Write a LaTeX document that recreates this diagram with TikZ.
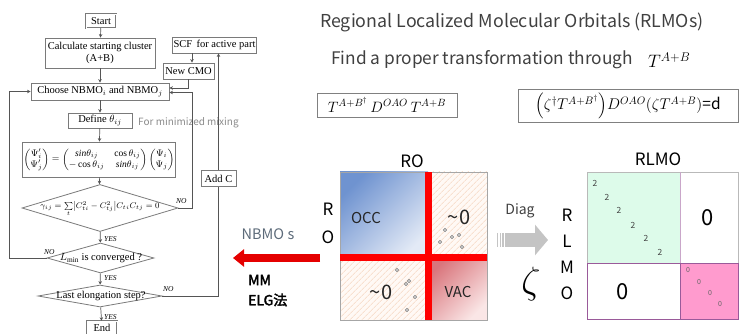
\RequirePackage{fix-cm}
\documentclass[tikz,border=0pt]{standalone}
\usepackage{amsmath}
\usepackage{fontspec}
\setmainfont{Liberation Serif}
\newfontfamily\jp{Noto Sans CJK JP}
\newfontfamily\jpbold{Noto Sans CJK JP}[FakeBold=2.5]
\usetikzlibrary{shapes.geometric,arrows.meta,patterns.meta}

\definecolor{boxgray}{HTML}{7A7A7A}
\definecolor{linegray}{HTML}{555555}
\definecolor{txtgray}{HTML}{404040}
\definecolor{mixgray}{HTML}{8A8A8A}
\definecolor{occdark}{HTML}{6F93D0}
\definecolor{occlight}{HTML}{E3EAF6}
\definecolor{vacdark}{HTML}{D9757C}
\definecolor{vaclight}{HTML}{FAE6E6}
\definecolor{hatchbg}{HTML}{FFF9F5}
\definecolor{hatchln}{HTML}{F8E0D0}
\definecolor{barred}{HTML}{FF0000}
\definecolor{mint}{HTML}{DDFBEA}
\definecolor{pinkblk}{HTML}{FF9BCE}
\definecolor{plum}{HTML}{9A5A9A}
\definecolor{plumlight}{HTML}{C9A6C9}
\definecolor{nbmo}{HTML}{5D6B7A}
\definecolor{diaggray}{HTML}{C4C4C4}

\begin{document}
\begin{tikzpicture}[x=1pt,y=-1pt,
  fbox/.style={draw=boxgray, line width=0.8pt, fill=white, inner sep=1pt, align=center,
               font=\fontsize{10.5}{12}\selectfont},
  endbox/.style={fbox, double=white, double distance=0.8pt, draw=boxgray, line width=0.5pt},
  dia/.style={diamond, draw=boxgray, line width=0.8pt, inner sep=0pt},
  flow/.style={draw=linegray, line width=0.7pt, -{Stealth[length=3.5pt,width=3.5pt]}},
  tag/.style={font=\fontsize{7.5}{8}\selectfont\itshape, inner sep=0pt},
  dots/.style={draw=gray, fill=gray!45, line width=0.4pt},
  jtxt/.style={font=\jp, text=txtgray, inner sep=0pt},
  eqbox/.style={draw=gray, line width=0.8pt, inner sep=1pt}
]
\useasboundingbox (0,0) rectangle (740,334);

% ---------------- flowchart ----------------
\node[endbox, minimum width=30pt, minimum height=14pt] (start) at (101,21) {Start};
\node[fbox, minimum width=110pt, minimum height=30pt] (calc) at (100,53)
  {Calculate starting cluster\\(A+B)};
\node[fbox, minimum width=138pt, minimum height=17pt] (choose) at (100,91.5)
  {Choose NBMO$_i$ and NBMO$_j$};
\node[fbox, minimum width=64pt, minimum height=15pt] (define) at (100,120.5)
  {Define $\theta_{ij}$};
\node[font=\jp\fontsize{10}{12}\selectfont, text=mixgray, anchor=west, inner sep=0pt] (mix)
  at (138,123) {For minimized mixing};
\node[fbox, minimum width=152pt, minimum height=35pt, font=\fontsize{9.5}{11}\selectfont] (rot) at (99,159.5)
  {$\begin{pmatrix}\Psi_i'\\ \Psi_j'\end{pmatrix}=
    \begin{pmatrix}\mathit{sin}\theta_{ij} & \cos\theta_{ij}\\ -\cos\theta_{ij} & \mathit{sin}\theta_{ij}\end{pmatrix}
    \begin{pmatrix}\Psi_i\\ \Psi_j\end{pmatrix}$};

\node[dia, minimum width=156pt, minimum height=47pt] (gam) at (100,208) {};
\node[font=\fontsize{8.3}{10}\selectfont, inner sep=0pt] (gamtxt) at (100,209)
  {$\gamma_{ij}=\sum\limits_{t}\bigl|C_{ti}^{2}-C_{tj}^{2}\bigr|C_{ti}C_{tj}=0$};
\node[dia, minimum width=107pt, minimum height=30pt] (lmin) at (100.5,258) {};
\node[font=\fontsize{10.5}{12}\selectfont, inner sep=0pt] (lmintxt) at (101,258)
  {$L_{\min}$ is converged ?};
\node[dia, minimum width=124pt, minimum height=22pt] (last) at (100,296) {};
\node[font=\fontsize{10.5}{12}\selectfont, inner sep=0pt] (lasttxt) at (101,296)
  {Last elongation step?};
\node[endbox, minimum width=30pt, minimum height=14pt] (end) at (102,328) {End};

\node[fbox, minimum width=83pt, minimum height=16pt] (scf) at (214.5,45) {SCF\, for active part};
\node[fbox, minimum width=51pt, minimum height=16pt] (newcmo) at (188.5,71) {New CMO};
\node[fbox, minimum width=35pt, minimum height=16pt] (addc) at (218.5,178.5) {Add C};

\coordinate (gamturn) at (192,208);
\coordinate (lminturn) at (9,258);

\draw[flow] (start) -- (calc);
\draw[flow] (calc) -- (choose);
\draw[flow] (choose) -- (define);
\draw[flow] (define) -- (rot);
\draw[flow] (rot) -- (gam);
\draw[flow] (gam) -- (lmin);
\draw[flow] (lmin) -- (last);
\draw[flow] (last) -- (end);
\draw[flow] ([xshift=3.5pt]newcmo.north |- scf.south) -- ([xshift=3.5pt]newcmo.north);
\draw[flow] (newcmo.south) |- ([yshift=3.5pt]choose.east);
\draw[flow] (gam.east) -- (gamturn) |- ([yshift=-1pt]choose.east);
\draw[flow] (lmin.west) -- (lminturn) |- (choose.west);
\draw[draw=linegray, line width=0.7pt] (last.east) -| (addc.south);
\draw[flow] (addc.north) -- (addc.north |- scf.south);

\node[tag, anchor=south west] (nogam) at (176,204) {NO};
\node[tag, anchor=south west] (nolmin) at (44,255) {NO};
\node[tag, anchor=south west] (nolast) at (163,292) {NO};
\node[tag, anchor=west] (yes1) at (104,239) {YES};
\node[tag, anchor=west] (yes2) at (104,278) {YES};
\node[tag, anchor=west] (yes3) at (104,317) {YES};

% ---------------- headings and formulas ----------------
\node[jtxt, font=\jp\fontsize{17.8}{20}\selectfont, anchor=west] (title) at (320,22)
  {Regional Localized Molecular Orbitals (RLMOs)};
\node[jtxt, font=\jp\fontsize{17.3}{19}\selectfont, anchor=west] (find) at (331,60)
  {Find a proper transformation through};
\node[font=\fontsize{18}{20}\selectfont, anchor=west, inner sep=0pt] (tab) at (648,60) {$T^{A+B}$};

\node[eqbox, minimum width=140pt, minimum height=24pt, font=\fontsize{15}{17}\selectfont] (eq1) at (387,105)
  {$T^{A+B^{\dagger}}\,D^{OAO}\,T^{A+B}$};
\node[eqbox, minimum width=220pt, minimum height=33pt, font=\fontsize{15.5}{17}\selectfont] (eq2) at (628,106)
  {$\Bigl(\zeta^{\dagger}T^{A+B^{\dagger}}\Bigr)D^{OAO}(\zeta T^{A+B})${\jp =d}};

% ---------------- RO matrix ----------------
\shade[top color=occdark, bottom color=occlight, shading angle=45] (340,172) rectangle (428,258);
\shade[top color=vacdark, bottom color=vaclight, shading angle=45] (428,258) rectangle (487,320);
\fill[hatchbg] (428,172) rectangle (487,258);
\fill[hatchbg] (340,258) rectangle (428,320);
\fill[pattern={Lines[angle=45,distance=4pt,line width=1pt]}, pattern color=hatchln]
  (428,172) rectangle (487,255);
\fill[pattern={Lines[angle=45,distance=4pt,line width=1pt]}, pattern color=hatchln]
  (340,261) rectangle (425,320);
\draw[gray!70, line width=0.6pt] (340,172) rectangle (487,320);
\fill[barred] (340,254.5) rectangle (487,261.5);
\fill[barred] (424.5,172) rectangle (431.5,320);

\node[jtxt, font=\jp\fontsize{17}{18}\selectfont, text=black] (rolab) at (412,161) {RO};
\node[jtxt, font=\jp\fontsize{17}{18}\selectfont, text=black] (roR) at (328,209) {R};
\node[jtxt, font=\jp\fontsize{17}{18}\selectfont, text=black] (roO) at (328,237) {O};
\node[jtxt, font=\jp\fontsize{15}{18}\selectfont, text=black!85] (occ) at (366,218) {OCC};
\node[jtxt, font=\jp\fontsize{15}{18}\selectfont, text=black!85] (vac) at (458,292) {VAC};
\node[jtxt, font=\jp\fontsize{20}{22}\selectfont, text=black!85] (z1) at (459,217) {\textasciitilde0};
\node[jtxt, font=\jp\fontsize{20}{22}\selectfont, text=black!85] (z2) at (381,292) {\textasciitilde0};

\foreach \p in {(445,230),(440,242),(452,237),(459,235),(462,247),
                (397,270),(406,284),(409,281),(415,297),(407,310)}
  \draw[dots] \p circle (1.8);

% ---------------- arrows between panels ----------------
\coordinate (nbtail) at (320,258);
\coordinate (nbtip) at (233,258);
\draw[barred!90!black, line width=8pt, -{Triangle[length=11pt,width=17pt]}] (nbtail) -- (nbtip);
\node[jtxt, font=\jp\fontsize{14.5}{16}\selectfont, text=nbmo] (nbmo) at (268,234) {NBMO s};
\node[font=\jpbold\fontsize{14}{16}\selectfont, anchor=west, inner sep=0pt] (mm) at (248,280) {MM};
\node[font=\jpbold\fontsize{14}{16}\selectfont, anchor=west, inner sep=0pt] (elg) at (248,300) {ELG法};

\node[jtxt, font=\jp\fontsize{14}{16}\selectfont] (diag) at (520,211) {Diag};
\coordinate (dtail) at (505,240);
\coordinate (dtip) at (548,240);
\draw[diaggray, line width=14pt, -{Triangle[length=13pt,width=30pt]}] (dtail) -- (dtip);
\foreach \x in {497.5,500.5,503} \draw[diaggray, line width=1.2pt] (\x,233) -- (\x,247);
\node[font=\fontsize{38}{40}\selectfont, inner sep=0pt] (zeta) at (531,284) {$\zeta$};

% ---------------- RLMO matrix ----------------
\fill[mint] (587,172) rectangle (680,263);
\fill[pinkblk] (680,263) rectangle (738,319);
\draw[gray!55, line width=0.7pt] (587,263) |- (738,172) -- (738,263);
\draw[plumlight, line width=0.7pt] (680,172) -- (680,263);
\draw[plum, line width=0.8pt] (587,263) rectangle (738,319);
\draw[plum, line width=0.8pt] (680,263) -- (680,319);

\node[jtxt, font=\jp\fontsize{17}{18}\selectfont, text=black] (rlmolab) at (658,159) {RLMO};
\foreach \ch/\yy [count=\i] in {R/215,L/241,M/267,O/293}
  \node[jtxt, font=\jp\fontsize{17}{18}\selectfont, text=black] (rl\i) at (567,\yy) {\ch};
\foreach \xx/\yy [count=\i] in {595/183,607/197,619/210,633/225,646/238,660/252}
  \node[jtxt, font=\jp\fontsize{8.5}{9}\selectfont, text=black!75] (two\i) at (\xx,\yy) {2};
\foreach \xx/\yy [count=\i] in {688/270,699/282,710/293,720/304}
  \node[jtxt, font=\jp\fontsize{7}{8}\selectfont, text=black!60] (zero\i) at (\xx,\yy) {0};
\node[jtxt, font=\jp\fontsize{22}{24}\selectfont, text=black] (ztr) at (708,218) {0};
\node[jtxt, font=\jp\fontsize{22}{24}\selectfont, text=black] (zbl) at (623,292) {0};
\end{tikzpicture}
\end{document}
